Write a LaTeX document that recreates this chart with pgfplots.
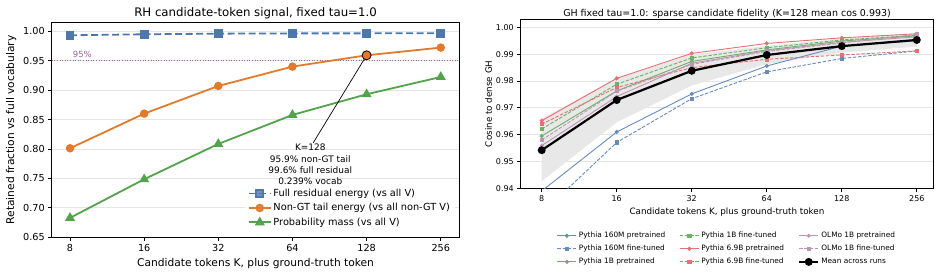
\documentclass[border=0pt]{standalone}
\usepackage{fontspec}
\setmainfont{DejaVu Sans}
\usepackage{pgfplots}
\pgfplotsset{compat=1.18}

\definecolor{cblue}{HTML}{4C78AE}
\definecolor{corange}{HTML}{E3792B}
\definecolor{cgreen}{HTML}{52A34B}
\definecolor{cred}{HTML}{E15759}
\definecolor{cpink}{HTML}{B07AA1}
\definecolor{cref}{HTML}{A0609F}

\begin{document}
\begin{tikzpicture}
\path[use as bounding box] (0bp,0bp) rectangle (941bp,276bp);

% ---------------- Left panel ----------------
\begin{axis}[
  at={(51.7bp,38.7bp)}, anchor=south west, scale only axis,
  width=407.6bp, height=214.6bp,
  xmin=-0.247, xmax=5.25, ymin=0.65, ymax=1.0146,
  xtick={0,1,2,3,4,5}, xticklabels={8,16,32,64,128,256},
  ytick={0.65,0.70,0.75,0.80,0.85,0.90,0.95,1.00},
  yticklabel style={/pgf/number format/.cd, fixed, fixed zerofill, precision=2},
  /pgf/number format/assume math mode=true,
  tick label style={font=\fontsize{9.7}{11}\selectfont},
  tick pos=left, tick align=outside, major tick length=3.5bp,
  every tick/.style={black, line width=0.8bp},
  axis line style={line width=0.8bp},
  ymajorgrids, grid style={black!10, line width=0.8bp},
  title={RH candidate-token signal, fixed tau=1.0},
  title style={font=\fontsize{11.8}{13}\selectfont, yshift=-6bp},
  xlabel={Candidate tokens K, plus ground-truth token},
  ylabel={Retained fraction vs full vocabulary},
  label style={font=\fontsize{10.7}{12}\selectfont},
  legend cell align=left,
  legend style={at={(0.474,0.244)}, anchor=north west, draw=none, fill=white, fill opacity=0.8, text opacity=1,
    font=\fontsize{9.8}{11}\selectfont, row sep=1.5bp},
  legend image code/.code={\draw[mark repeat=2,mark phase=2] plot coordinates {(0bp,0bp) (10.8bp,0bp) (21.6bp,0bp)};},
]
\addplot[forget plot, cref, line width=0.9bp, dash pattern=on 1bp off 1.6bp] coordinates {(-0.247,0.95) (5.25,0.95)};
\addplot[cblue, line width=1.8bp, dash pattern=on 7bp off 3.5bp, mark=square*, mark size=3.5bp, mark options={solid}]
  coordinates {(0,0.9932) (1,0.9949) (2,0.9960) (3,0.9964) (4,0.9965) (5,0.9966)};
\addlegendentry{Full residual energy (vs all V)}
\addplot[corange, line width=1.8bp, mark=*, mark size=3.3bp]
  coordinates {(0,0.8012) (1,0.8601) (2,0.9071) (3,0.9400) (4,0.9592) (5,0.9723)};
\addlegendentry{Non-GT tail energy (vs all non-GT V)}
\addplot[cgreen, line width=1.8bp, mark=triangle*, mark size=4bp]
  coordinates {(0,0.6830) (1,0.7486) (2,0.8086) (3,0.8579) (4,0.8930) (5,0.9224)};
\addlegendentry{Probability mass (vs all V)}
\addplot[forget plot, only marks, mark=*, mark size=4.5bp, mark options={fill=corange, draw=black, line width=0.8bp}]
  coordinates {(4,0.9592)};
\draw[black, line width=0.7bp] (axis cs:3.28,0.8105) -- (axis cs:4,0.9592);
\node[anchor=west, text=cref, font=\fontsize{8.5}{10}\selectfont, inner sep=0pt] at (axis cs:0.036,0.961) {95\%};
\node[anchor=north, align=center, font=\fontsize{9}{11.3}\selectfont, inner sep=1bp] at (axis cs:3.24,0.8102)
  {K=128\\95.9\% non-GT tail\\99.6\% full residual\\0.239\% vocab};
\end{axis}

% ---------------- Right panel ----------------
\begin{axis}[
  at={(520.7bp,87.7bp)}, anchor=south west, scale only axis,
  width=412.6bp, height=169bp,
  xmin=-0.28, xmax=5.22, ymin=0.94, ymax=1.003,
  xtick={0,1,2,3,4,5}, xticklabels={8,16,32,64,128,256},
  ytick={0.94,0.95,0.96,0.97,0.98,0.99,1.00},
  yticklabel style={/pgf/number format/.cd, fixed, fixed zerofill, precision=2},
  /pgf/number format/assume math mode=true,
  tick label style={font=\fontsize{8}{9.5}\selectfont},
  tick pos=left, tick align=outside, major tick length=3.5bp,
  every tick/.style={black, line width=0.8bp},
  axis line style={line width=0.8bp},
  ymajorgrids, grid style={black!10, line width=0.8bp},
  title={GH fixed tau=1.0: sparse candidate fidelity (K=128 mean cos 0.993)},
  title style={font=\fontsize{9.5}{11}\selectfont, yshift=-9bp},
  xlabel={Candidate tokens K, plus ground-truth token},
  ylabel={Cosine to dense GH},
  label style={font=\fontsize{8.8}{10}\selectfont},
  ylabel style={yshift=-3bp},
  legend cell align=left,
  legend columns=3, transpose legend,
  legend style={at={(0.5,-0.235)}, anchor=north, draw=none, fill=none,
    font=\fontsize{7.4}{8.5}\selectfont, row sep=2bp,
    /tikz/every even column/.append style={column sep=12bp}},
  legend image code/.code={\draw[mark repeat=2,mark phase=2] plot coordinates {(0bp,0bp) (9.5bp,0bp) (19bp,0bp)};},
]
\addplot[forget plot, fill=black!9, draw=none] coordinates {
 (0,0.9660) (1,0.9810) (2,0.9899) (3,0.9931) (4,0.9959) (5,0.9978)
 (5,0.9928) (4,0.9906) (3,0.9863) (2,0.9783) (1,0.9646) (0,0.9426)} -- cycle;
\addplot[cblue!85!white, line width=0.9bp, mark=*, mark size=1.6bp]
  coordinates {(0,0.9390) (1,0.9610) (2,0.9752) (3,0.9856) (4,0.9930) (5,0.9950)};
\addlegendentry{Pythia 160M pretrained}
\addplot[cblue!85!white, line width=0.9bp, dash pattern=on 3.5bp off 1.6bp, mark=square*, mark size=1.7bp, mark options={solid}]
  coordinates {(0,0.9307) (1,0.9571) (2,0.9734) (3,0.9834) (4,0.9884) (5,0.9912)};
\addlegendentry{Pythia 160M fine-tuned}
\addplot[cgreen!85!white, line width=0.9bp, mark=*, mark size=1.6bp]
  coordinates {(0,0.9595) (1,0.9763) (2,0.9873) (3,0.9916) (4,0.9949) (5,0.9968)};
\addlegendentry{Pythia 1B pretrained}
\addplot[cgreen!85!white, line width=0.9bp, dash pattern=on 3.5bp off 1.6bp, mark=square*, mark size=1.7bp, mark options={solid}]
  coordinates {(0,0.9621) (1,0.9788) (2,0.9886) (3,0.9924) (4,0.9953) (5,0.9970)};
\addlegendentry{Pythia 1B fine-tuned}
\addplot[cred!85!white, line width=0.9bp, mark=*, mark size=1.6bp]
  coordinates {(0,0.9652) (1,0.9810) (2,0.9903) (3,0.9940) (4,0.9961) (5,0.9976)};
\addlegendentry{Pythia 6.9B pretrained}
\addplot[cred!85!white, line width=0.9bp, dash pattern=on 3.5bp off 1.6bp, mark=square*, mark size=1.7bp, mark options={solid}]
  coordinates {(0,0.9639) (1,0.9776) (2,0.9850) (3,0.9881) (4,0.9897) (5,0.9912)};
\addlegendentry{Pythia 6.9B fine-tuned}
\addplot[cpink!80!white, line width=0.9bp, mark=*, mark size=1.6bp]
  coordinates {(0,0.9559) (1,0.9742) (2,0.9866) (3,0.9913) (4,0.9944) (5,0.9965)};
\addlegendentry{OLMo 1B pretrained}
\addplot[cpink!80!white, line width=0.9bp, dash pattern=on 3.5bp off 1.6bp, mark=square*, mark size=1.7bp, mark options={solid}]
  coordinates {(0,0.9580) (1,0.9762) (2,0.9862) (3,0.9910) (4,0.9942) (5,0.9974)};
\addlegendentry{OLMo 1B fine-tuned}
\addplot[black, line width=2.2bp, mark=*, mark size=2.8bp]
  coordinates {(0,0.9542) (1,0.9729) (2,0.9838) (3,0.9897) (4,0.9930) (5,0.9953)};
\addlegendentry{Mean across runs}
\end{axis}
\end{tikzpicture}
\end{document}
